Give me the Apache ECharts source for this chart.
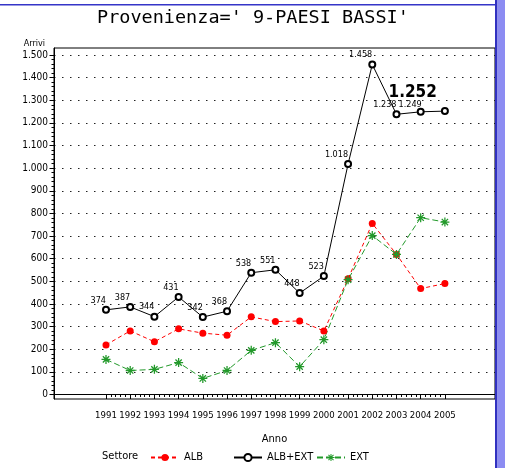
<!DOCTYPE html>
<html lang="it">
<head>
<meta charset="UTF-8" />
<title>Provenienza 9-PAESI BASSI</title>
<script src="https://cdn.jsdelivr.net/npm/echarts@6/dist/echarts.min.js"></script>
<style>
	html, body { margin: 0; padding: 0; background: #fff; }
	#chart { width: 505px; height: 468px; }
</style>
</head>
<body>
<div id="chart"></div>
<script>
	// dati
	const anni = [1991, 1992, 1993, 1994, 1995, 1996, 1997, 1998, 1999, 2000, 2001, 2002, 2003, 2004, 2005];
	const albExt = [374, 387, 344, 431, 342, 368, 538, 551, 448, 523, 1018, 1458, 1238, 1249, 1252];
	const alb = [219, 281, 233, 290, 271, 262, 343, 322, 325, 281, 511, 756, 619, 468, 490];
	const ext = [155, 106, 111, 141, 71, 106, 195, 229, 123, 242, 507, 702, 619, 781, 762];
	const yTicks = [0, 100, 200, 300, 400, 500, 600, 700, 800, 900, 1000, 1100, 1200, 1300, 1400, 1500];

	const FONT = "'DejaVu Sans Condensed', 'Liberation Sans', sans-serif";
	const xMin = 1988.852, xMax = 2007.07;
	const yMin = -19.9, yMax = 1530.9;

	// 1.458 style
	function fmt(v) {
		v = Math.round(v);
		if (v >= 1000) return Math.floor(v / 1000) + "." + String(v % 1000).padStart(3, "0");
		return String(v);
	}

	const xMinor = [];
	for (let i = 0; i < anni.length - 1; i++) {
		for (let k = 1; k < 5; k++) xMinor.push(anni[i] + k / 5);
	}
	const yMinor = [];
	for (let i = 0; i < yTicks.length - 1; i++) {
		for (let k = 1; k < 5; k++) yMinor.push(yTicks[i] + k * 20);
	}

	const asterisk = "path://M-5,-0.7L5,-0.7L5,0.7L-5,0.7ZM-0.7,-5L0.7,-5L0.7,5L-0.7,5ZM-3,-4L4,3L3,4L-4,-3ZM3,-4L4,-3L-3,4L-4,3Z";

	const albExtData = anni.map((a, i) => ({ value: [a, albExt[i]] }));
	albExtData[13].label = { offset: [1, 2] };
	albExtData[14].label = { fontSize: 17, fontWeight: "bold", offset: [-8, -5] };

	const chart = echarts.init(document.getElementById("chart"));
	chart.setOption({
		animation: false,
		title: [
			{
				text: "Provenienza=' 9-PAESI BASSI'",
				left: 97,
				top: 9,
				padding: 0,
				textStyle: { fontFamily: "'DejaVu Sans Mono', monospace", fontSize: 18.5, fontWeight: "normal", color: "#000" }
			},
			{
				text: "Settore",
				left: 102,
				top: 451,
				padding: 0,
				textStyle: { fontFamily: FONT, fontSize: 11, fontWeight: "normal", color: "#000" }
			}
		],
		legend: [
			{ data: ["ALB"], left: 150, top: 452, padding: 0, itemWidth: 28, itemHeight: 9,
				textStyle: { fontFamily: FONT, fontSize: 11, color: "#000" } },
			{ data: ["ALB+EXT"], left: 233, top: 452, padding: 0, itemWidth: 28, itemHeight: 9,
				textStyle: { fontFamily: FONT, fontSize: 11, color: "#000" } },
			{ data: ["EXT"], left: 316, top: 452, padding: 0, itemWidth: 28, itemHeight: 9,
				textStyle: { fontFamily: FONT, fontSize: 11, color: "#000" } }
		],
		grid: {
			left: 54, top: 48, right: 10, bottom: 69,
			show: true, borderColor: "#000", borderWidth: 1
		},
		xAxis: [
			{
				type: "value", min: xMin, max: xMax,
				name: "Anno", nameLocation: "middle", nameGap: 35,
				nameTextStyle: { fontFamily: FONT, fontSize: 11, color: "#000" },
				axisLine: { lineStyle: { color: "#000" } },
				axisTick: { customValues: anni, length: 4.5, lineStyle: { color: "#000" } },
				axisLabel: { customValues: anni, formatter: (v) => String(v), margin: 12,
					fontFamily: FONT, fontSize: 9.5, color: "#000" },
				splitLine: { show: false }
			},
			{
				type: "value", min: xMin, max: xMax, position: "bottom",
				axisLine: { show: false },
				axisTick: { customValues: xMinor, length: 2.5, lineStyle: { color: "#000" } },
				axisLabel: { show: false },
				splitLine: { show: false }
			}
		],
		yAxis: [
			{
				type: "value", min: yMin, max: yMax,
				name: "Arrivi", nameLocation: "end", nameGap: 0,
				nameTextStyle: { fontFamily: FONT, fontSize: 9, color: "#000", align: "right", padding: [0, 9, 0, 0] },
				axisLine: { show: true, lineStyle: { color: "#000" } },
				axisTick: { show: true, customValues: yTicks, length: 4.5, lineStyle: { color: "#000" } },
				axisLabel: { customValues: yTicks, formatter: fmt, margin: 6,
					fontFamily: FONT, fontSize: 10, color: "#000" },
				splitLine: { show: true, lineStyle: { color: "#222", width: 1, type: [1.5, 6.5] } }
			},
			{
				type: "value", min: yMin, max: yMax, position: "left",
				axisLine: { show: false },
				axisTick: { show: true, customValues: yMinor, length: 2.5, lineStyle: { color: "#000" } },
				axisLabel: { show: false },
				splitLine: { show: false }
			}
		],
		series: [
			{
				name: "ALB", type: "line",
				data: anni.map((a, i) => [a, alb[i]]),
				symbol: "circle", symbolSize: 7,
				itemStyle: { color: "#ff0000" },
				lineStyle: { color: "#ff0000", width: 1, type: [4, 3] }
			},
			{
				name: "ALB+EXT", type: "line",
				data: albExtData,
				symbol: "emptyCircle", symbolSize: 6,
				itemStyle: { color: "#000", borderWidth: 1 },
				lineStyle: { color: "#000", width: 1 },
				label: {
					show: true, position: "top", align: "right", distance: 1,
					formatter: (p) => fmt(p.value[1]),
					fontFamily: FONT, fontSize: 9, color: "#000"
				}
			},
			{
				name: "EXT", type: "line",
				data: anni.map((a, i) => [a, ext[i]]),
				symbol: asterisk, symbolSize: 9,
				itemStyle: { color: "#22992a" },
				lineStyle: { color: "#22992a", width: 1, type: [6, 3] }
			}
		],
		graphic: [
			{ type: "rect", z: 100, shape: { x: 0, y: 4, width: 495, height: 1.5 }, style: { fill: "#3535c8" } },
			{ type: "rect", z: 100, shape: { x: 495, y: 0, width: 2.5, height: 468 }, style: { fill: "#3030c0" } },
			{ type: "rect", z: 100, shape: { x: 497.5, y: 0, width: 7.5, height: 468 }, style: { fill: "#8c8cf2" } }
		]
	});
</script>
</body>
</html>
